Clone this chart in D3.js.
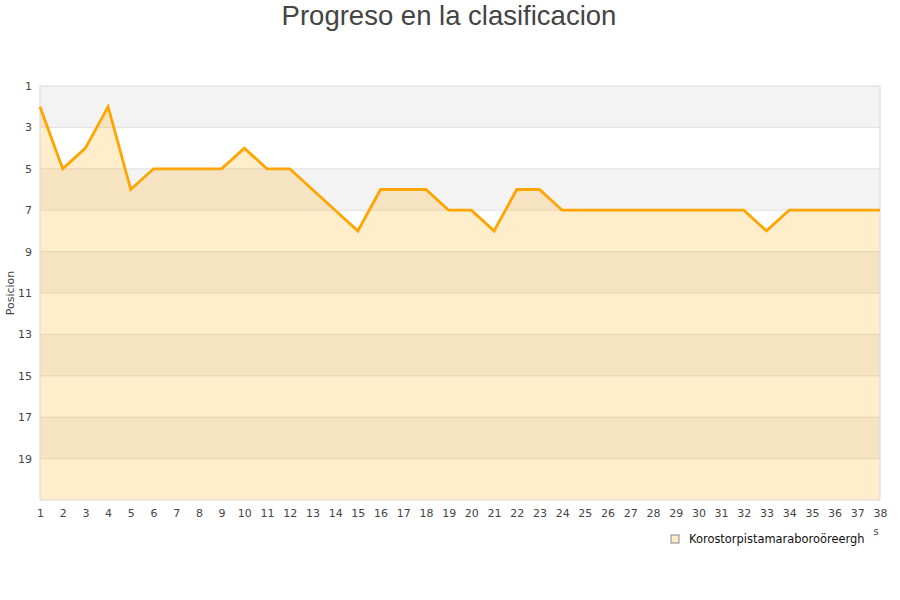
<!DOCTYPE html>
<html>
<head>
<meta charset="utf-8">
<script src="https://cdn.jsdelivr.net/npm/d3@7"></script>
<style>
  body { margin: 0; background: #fff; }
  svg { display: block; }
</style>
</head>
<body>
<svg width="900" height="600"></svg>
<script>
const jornadas = d3.range(1, 39);
const posiciones = [2, 5, 4, 2, 6, 5, 5, 5, 5, 4, 5, 5, 6, 7, 8, 6, 6, 6, 7, 7,
  8, 6, 6, 7, 7, 7, 7, 7, 7, 7, 7, 7, 8, 7, 7, 7, 7, 7];
const yTicks = [1, 3, 5, 7, 9, 11, 13, 15, 17, 19];
const equipo = "Korostorpistamaraboroöreergh";

const svg = d3.select("svg");
const width = +svg.attr("width");

const margin = { top: 86, left: 40, right: 20, bottom: 100 };
const x = d3.scaleLinear().domain([1, 38]).range([margin.left, width - margin.right]);
const y = d3.scaleLinear().domain([1, 21]).range([margin.top, 500]);

const data = jornadas.map((j, i) => ({ j, p: posiciones[i] }));

// alternating bands
const bands = d3.range(1, 21, 2);
svg.append("g").selectAll("rect")
  .data(bands)
  .enter()
  .append("rect")
  .attr("x", x(1))
  .attr("width", x(38) - x(1))
  .attr("y", (d) => y(d))
  .attr("height", (d) => y(d + 2) - y(d))
  .attr("fill", (d, i) => (i % 2 === 0 ? "#f3f3f3" : "#ffffff"));

// grid lines
svg.append("g").selectAll("line")
  .data(yTicks.slice(1))
  .enter()
  .append("line")
  .attr("x1", x(1))
  .attr("x2", x(38))
  .attr("y1", (d) => y(d))
  .attr("y2", (d) => y(d))
  .attr("stroke", "#e0e0e0")
  .attr("stroke-width", 1);

// area
const area = d3.area()
  .x((d) => x(d.j))
  .y0(y(21))
  .y1((d) => y(d.p));

svg.append("path")
  .datum(data)
  .attr("d", area)
  .attr("fill", "rgba(255,165,0,0.2)");

// border
svg.append("rect")
  .attr("x", x(1))
  .attr("y", y(1))
  .attr("width", x(38) - x(1))
  .attr("height", y(21) - y(1))
  .attr("fill", "none")
  .attr("stroke", "#d9d9d9");

// line
const line = d3.line()
  .x((d) => x(d.j))
  .y((d) => y(d.p));

svg.append("path")
  .datum(data)
  .attr("d", line)
  .attr("fill", "none")
  .attr("stroke", "#ffa500")
  .attr("stroke-width", 2.8);

// axes
const yAxis = d3.axisLeft(y).tickValues(yTicks).tickSize(0).tickPadding(8);
const yAxisG = svg.append("g")
  .attr("transform", `translate(${x(1)},0)`)
  .call(yAxis);
yAxisG.select(".domain").remove();
yAxisG.selectAll("text")
  .attr("font-family", "DejaVu Sans")
  .attr("font-size", 11)
  .attr("fill", "#444");

const xAxis = d3.axisBottom(x).tickValues(jornadas).tickFormat(d3.format("d")).tickSize(0).tickPadding(9);
const xAxisG = svg.append("g")
  .attr("transform", `translate(0,${y(21)})`)
  .call(xAxis);
xAxisG.select(".domain").remove();
xAxisG.selectAll("text")
  .attr("font-family", "DejaVu Sans")
  .attr("font-size", 11)
  .attr("fill", "#444");

// title
svg.append("text")
  .attr("x", 449)
  .attr("y", 25)
  .attr("text-anchor", "middle")
  .attr("font-family", "Liberation Sans, Arial, sans-serif")
  .attr("font-size", 27.5)
  .attr("fill", "#444")
  .text("Progreso en la clasificacion");

// y label
svg.append("text")
  .attr("transform", "translate(14,293) rotate(-90)")
  .attr("text-anchor", "middle")
  .attr("font-family", "DejaVu Sans")
  .attr("font-size", 11)
  .attr("fill", "#444")
  .text("Posicion");

// stray clipped label
svg.append("text")
  .attr("x", 876)
  .attr("y", 535)
  .attr("text-anchor", "middle")
  .attr("font-family", "DejaVu Sans")
  .attr("font-size", 10)
  .attr("fill", "#444")
  .text("s");

// legend
const legend = svg.append("g").attr("transform", "translate(671,535)");
legend.append("rect")
  .attr("width", 8)
  .attr("height", 8)
  .attr("fill", "#fdebc8")
  .attr("stroke", "#888")
  .attr("stroke-width", 1);
legend.append("text")
  .attr("x", 18)
  .attr("y", 8)
  .attr("font-family", "DejaVu Sans")
  .attr("font-size", 11.45)
  .attr("fill", "#111")
  .text(equipo);
</script>
</body>
</html>
